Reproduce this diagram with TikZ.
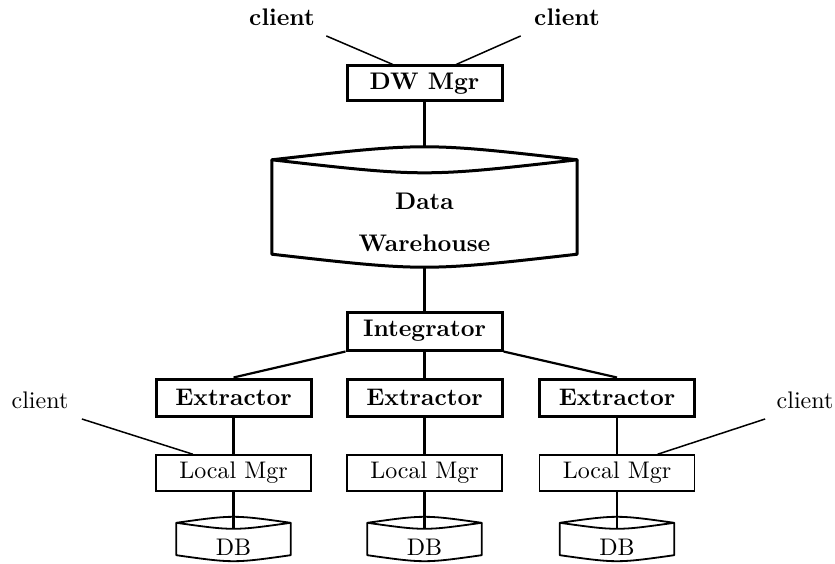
\documentclass[tikz,border=0pt]{standalone}
\usepackage{fontspec}
\setmainfont{lmroman10-regular}[Extension=.otf,BoldFont=lmroman10-bold]
\usepackage{tikz}
\usetikzlibrary{calc}

\begin{document}
\begin{tikzpicture}[x=1pt,y=-1pt,
  every node/.style={font=\fontsize{24}{28}\selectfont},
  boldtext/.style={font=\fontsize{24}{28}\selectfont\bfseries},
  boldbox/.style={draw,line width=3pt,font=\fontsize{24}{28}\selectfont\bfseries,
    minimum width=155pt,minimum height=37pt,inner sep=0pt},
  plainbox/.style={draw,line width=1.6pt,minimum width=155pt,minimum height=36pt,inner sep=0pt},
  drum/.style={minimum width=#1,inner sep=0pt},
  link/.style={line width=2.2pt},
  clientlink/.style={line width=1.5pt}]
  \useasboundingbox (0,0) rectangle (835,564);
  % cylinder outline round a node: name, depth, line width
  \def\drum#1#2#3{
    \draw[line width=#3,line join=round] ($(#1.north west)+(0,#2)$) .. controls ($(#1.north)+(0,-#2/3)$) .. ($(#1.north east)+(0,#2)$)
      .. controls ($(#1.north)+(0,7*#2/3)$) .. cycle;
    \draw[line width=#3,line join=round] ($(#1.north west)+(0,#2)$) -- ($(#1.south west)+(0,-#2)$)
      .. controls ($(#1.south)+(0,#2/3)$) .. ($(#1.south east)+(0,-#2)$) -- ($(#1.north east)+(0,#2)$);
  }

  % warehouse side
  \node[boldtext] (cl1) at (282,17) {client};
  \node[boldtext] (cl2) at (567,17) {client};
  \node[boldbox,minimum height=35pt] (dwm) at (424.5,83.5) {DW Mgr};
  \node[drum=305pt,minimum height=120pt] (dw) at (424.5,207) {};
  \drum{dw}{13}{3pt}
  \node[boldtext,align=center,font=\fontsize{24}{42}\selectfont\bfseries] (dwt) at (424.5,222) {Data\\Warehouse};
  \node[boldbox,minimum height=38pt] (integ) at (424.5,331) {Integrator};

  \draw[clientlink] ($(cl1.south east)+(8,7)$) -- ($(dwm.north west)!0.6!(dwm.north)$);
  \draw[clientlink] ($(cl2.south west)+(-10,7)$) -- ($(dwm.north)!0.4!(dwm.north east)$);
  \draw[link] (dwm) -- (dw.north);
  \draw[link] (dw.south) -- (integ);

  % sources
  \foreach \x/\n in {233.5/1,424.5/2,617/3} {
    \node[boldbox] (ex\n) at (\x,397.5) {Extractor};
    \node[plainbox] (lm\n) at (\x,473) {Local Mgr};
    \node[drum=114pt,minimum height=44pt] (db\n) at (\x,539) {};
    \drum{db\n}{6}{1.8pt}
    \node (dbt\n) at (\x,547) {DB};
    \draw[link] (ex\n) -- (lm\n);
    \draw[link] (lm\n) -- ($(db\n.north)+(0,12)$);
  }
  \draw[link] (integ.south west) -- (ex1.north);
  \draw[link] (integ) -- (ex2);
  \draw[link] (integ.south east) -- (ex3.north);

  \node (cl3) at (40,400) {client};
  \node (cl4) at (805,400) {client};
  \draw[clientlink] ($(cl3.south east)+(10,7)$) -- ($(lm1.north west)!0.24!(lm1.north east)$);
  \draw[clientlink] ($(cl4.south west)+(-8,7)$) -- ($(lm3.north west)!0.76!(lm3.north east)$);
\end{tikzpicture}
\end{document}
